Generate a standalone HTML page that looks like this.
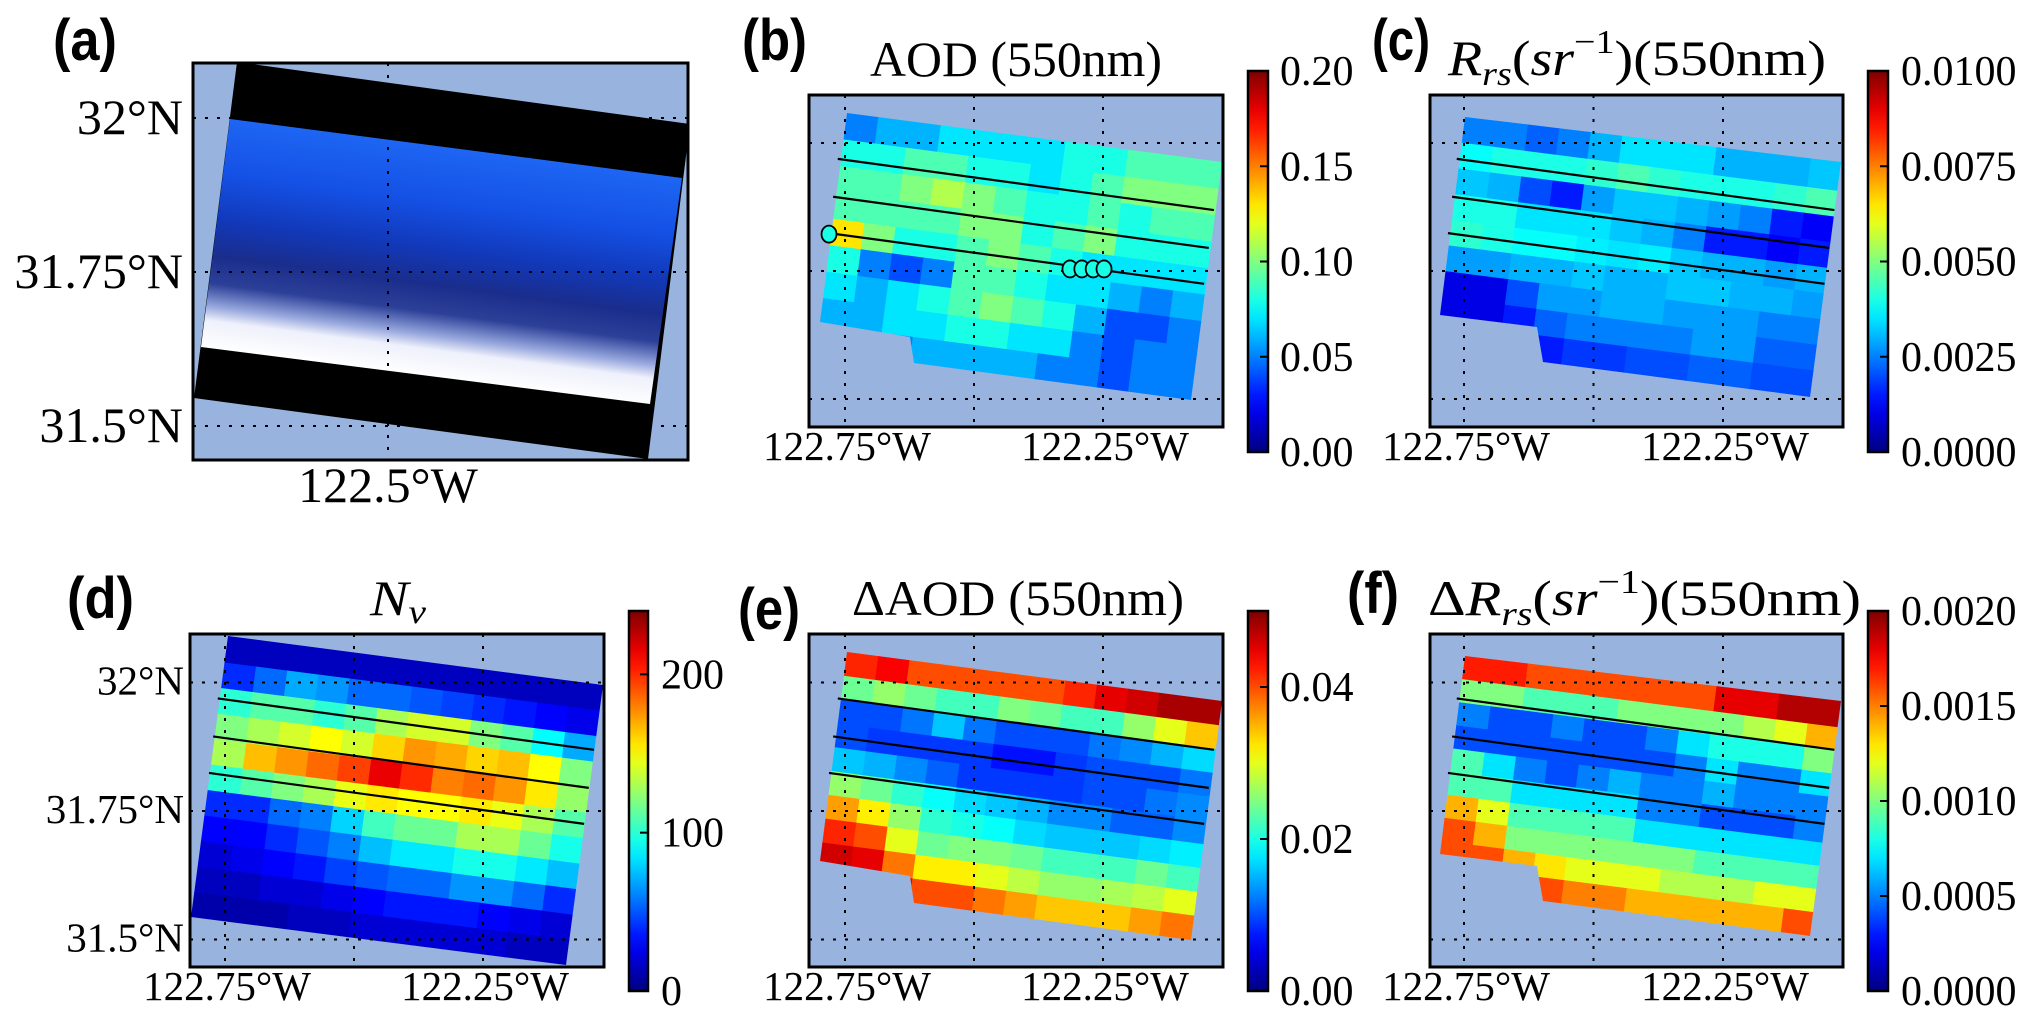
<!DOCTYPE html>
<html><head><meta charset="utf-8"><style>
html,body{margin:0;padding:0;background:#fff;}
svg{display:block;}
text{font-family:"Liberation Serif",serif;fill:#000;}
.pl{font-family:"Liberation Sans",sans-serif;font-weight:bold;}
</style></head><body>
<svg id="fig" xmlns="http://www.w3.org/2000/svg" width="2031" height="1025" viewBox="0 0 2031 1025">
<defs id="defs"></defs>
<g id="root"></g>
<text class="pl" x="53" y="60" font-size="58" textLength="64" lengthAdjust="spacingAndGlyphs">(a)</text>
<text class="pl" x="742" y="60" font-size="58" textLength="65" lengthAdjust="spacingAndGlyphs">(b)</text>
<text class="pl" x="1372" y="60" font-size="58" textLength="58" lengthAdjust="spacingAndGlyphs">(c)</text>
<text class="pl" x="67" y="618" font-size="58" textLength="67" lengthAdjust="spacingAndGlyphs">(d)</text>
<text class="pl" x="738" y="629" font-size="58" textLength="62" lengthAdjust="spacingAndGlyphs">(e)</text>
<text class="pl" x="1347" y="613" font-size="58" textLength="52" lengthAdjust="spacingAndGlyphs">(f)</text>

<text x="870" y="76" font-size="50" textLength="292" lengthAdjust="spacingAndGlyphs">AOD (550nm)</text>
<text x="1448" y="75" font-size="50" textLength="378" lengthAdjust="spacingAndGlyphs"><tspan font-style="italic">R</tspan><tspan font-style="italic" font-size="34" dy="10">rs</tspan><tspan dy="-10">(</tspan><tspan font-style="italic">sr</tspan><tspan font-size="34" dy="-22">−1</tspan><tspan dy="22">)(550nm)</tspan></text>
<text x="370" y="615" font-size="50" textLength="56" lengthAdjust="spacingAndGlyphs"><tspan font-style="italic">N</tspan><tspan font-style="italic" font-size="34" dy="8">v</tspan></text>
<text x="852" y="615" font-size="50" textLength="332" lengthAdjust="spacingAndGlyphs">ΔAOD (550nm)</text>
<text x="1428" y="615" font-size="50" textLength="433" lengthAdjust="spacingAndGlyphs">Δ<tspan font-style="italic">R</tspan><tspan font-style="italic" font-size="34" dy="10">rs</tspan><tspan dy="-10">(</tspan><tspan font-style="italic">sr</tspan><tspan font-size="34" dy="-22">−1</tspan><tspan dy="22">)(550nm)</tspan></text>
</svg>
<script>
// ---------- data arrays ----------
const aodRows = [
[0.05,0.06,0.06,0.07,0.07,0.07,0.07,0.08,0.08,0.09,0.09,0.09],
[0.08,0.08,0.09,0.09,0.08,0.08,0.07,0.08,0.09,0.10,0.10,0.10],
[0.09,0.09,0.10,0.11,0.10,0.09,0.08,0.08,0.09,0.08,0.09,0.09],
[0.09,0.09,0.09,0.09,0.10,0.10,0.08,0.09,0.10,0.08,0.08,0.08],
[0.13,0.10,0.08,0.08,0.09,0.10,0.09,0.08,0.07,0.07,0.07,0.07],
[0.08,0.05,0.04,0.05,0.09,0.09,0.08,0.07,0.07,0.06,0.05,0.06],
[0.07,0.06,0.07,0.08,0.09,0.10,0.09,0.08,0.06,0.04,0.04,0.05],
[0.06,0.06,0.07,0.07,0.08,0.08,0.07,0.07,0.05,0.04,0.05,0.05],
[0.05,0.05,0.05,0.06,0.06,0.06,0.06,0.05,0.05,0.04,0.05,0.05]];
const rrsRows = [
[.0025,.0025,.0022,.0025,.0030,.0035,.0035,.0035,.0030,.0030,.0030,.0032],
[.0038,.0040,.0040,.0040,.0042,.0045,.0042,.0040,.0040,.0040,.0042,.0045],
[.0032,.0030,.0020,.0015,.0028,.0032,.0032,.0030,.0028,.0025,.0015,.0012],
[.0040,.0040,.0035,.0035,.0035,.0032,.0030,.0025,.0015,.0015,.0012,.0015],
[.0042,.0040,.0038,.0038,.0036,.0035,.0036,.0032,.0030,.0030,.0028,.0030],
[.0028,.0028,.0030,.0030,.0032,.0030,.0030,.0032,.0032,.0030,.0030,.0028],
[.0010,.0010,.0020,.0028,.0028,.0030,.0030,.0028,.0028,.0028,.0025,.0025],
[.0010,.0010,.0015,.0022,.0025,.0025,.0025,.0025,.0028,.0028,.0022,.0022],
[.0010,.0010,.0012,.0015,.0018,.0018,.0020,.0020,.0022,.0022,.0020,.0020]];
const nvRows = [
[15,15,15,15,15,15,15,15,15,15,15,15],
[40,55,70,65,55,55,50,45,40,35,30,25],
[100,110,110,100,110,130,140,140,120,110,90,70],
[120,130,140,150,140,160,175,170,160,165,150,120],
[130,165,175,185,195,215,200,180,185,175,155,125],
[100,110,120,130,145,155,150,150,155,145,130,110],
[40,40,55,60,80,105,115,115,130,130,115,95],
[30,30,40,50,60,75,85,85,95,95,85,75],
[20,25,30,35,45,50,55,55,65,65,55,40],
[15,15,20,20,25,30,35,35,35,30,25,20],
[10,10,10,15,15,20,20,20,20,20,15,15]];
const dAodRows = [
[.042,.044,.040,.040,.040,.040,.040,.042,.045,.046,.048,.048],
[.024,.026,.024,.022,.022,.025,.024,.022,.022,.026,.030,.034],
[.010,.010,.012,.016,.012,.010,.010,.010,.012,.013,.015,.017],
[.010,.009,.009,.009,.009,.007,.007,.009,.010,.010,.010,.012],
[.016,.015,.013,.011,.009,.009,.009,.009,.010,.010,.012,.013],
[.026,.024,.021,.019,.017,.016,.015,.013,.013,.011,.011,.013],
[.036,.032,.026,.021,.020,.019,.017,.016,.016,.016,.017,.018],
[.042,.040,.030,.024,.025,.025,.024,.022,.022,.022,.024,.022],
[.046,.045,.038,.032,.032,.030,.028,.026,.026,.027,.028,.030],
[.048,.048,.044,.040,.040,.038,.036,.034,.034,.034,.036,.038]];
const dRrsRows = [
[.0017,.0017,.0016,.0016,.0016,.0016,.0016,.0016,.0018,.0018,.0019,.0019],
[.0010,.0010,.0009,.0009,.0009,.0010,.0010,.0010,.0010,.0011,.0012,.0014],
[.0005,.0004,.0004,.0005,.0004,.0004,.0005,.0007,.0008,.0008,.0008,.0010],
[.0004,.0004,.0004,.0004,.0004,.0004,.0004,.0005,.0007,.0005,.0005,.0007],
[.0009,.0007,.0005,.0004,.0005,.0006,.0005,.0005,.0006,.0005,.0005,.0005],
[.0009,.0009,.0007,.0007,.0007,.0007,.0005,.0005,.0004,.0004,.0004,.0005],
[.0014,.0012,.0009,.0009,.0009,.0009,.0007,.0007,.0007,.0007,.0007,.0007],
[.0016,.0014,.0010,.0010,.0010,.0010,.0010,.0010,.0009,.0009,.0009,.0009],
[.0016,.0016,.0014,.0013,.0012,.0012,.0012,.0011,.0011,.0011,.0012,.0012],
[.0018,.0018,.0016,.0016,.0015,.0015,.0014,.0014,.0014,.0014,.0014,.0016]];
const aodTicks = ["0.00","0.05","0.10","0.15","0.20"];
const rrsTicks = ["0.0000","0.0025","0.0050","0.0075","0.0100"];
const nvTicks = ["0","100","200"];
const dAodTicks = ["0.00","0.02","0.04"];
const dRrsTicks = ["0.0000","0.0005","0.0010","0.0015","0.0020"];
const lonTicks = [-122.75,-122.5,-122.25];
const lonTickLabels = ["122.75°W","","122.25°W"];
const latTicks = [32,31.75,31.5];
const latTickLabels = ["32°N","31.75°N","31.5°N"];
const transectLon0 = [-122.764,-122.773,-122.781];
const transectLat0 = [31.969,31.895,31.824];
const transectLon1 = [-122.035,-122.045,-122.054];
const transectLat1 = [31.869,31.795,31.725];
const stationLon = [-122.781,-122.314,-122.291,-122.269,-122.248];
const stationLat = [31.822,31.754,31.754,31.754,31.754];

// ---------- helpers ----------
const NS="http://www.w3.org/2000/svg";
const root=document.getElementById('root');
const defs=document.getElementById('defs');
function mk(tag,attrs,parent){const e=document.createElementNS(NS,tag);for(const k in attrs)e.setAttribute(k,attrs[k]);(parent||root).appendChild(e);return e;}
function cl(v){return Math.max(0,Math.min(1,v));}
function jet(t){t=cl(t);const r=cl(Math.min(4*t-1.5,-4*t+4.5)),g=cl(Math.min(4*t-0.5,-4*t+3.5)),b=cl(Math.min(4*t+0.5,-4*t+2.5));
 return 'rgb('+Math.round(r*255)+','+Math.round(g*255)+','+Math.round(b*255)+')';}
const BG='#98b4de';

const lg=mk('linearGradient',{id:'jetg',x1:0,y1:1,x2:0,y2:0},defs);
for(let i=0;i<=20;i++){mk('stop',{offset:(i/20),'stop-color':jet(i/20)},lg);}

const panels=[
 {id:'b',ax:[809,95,1223,427],cb:[1248,71,1268,452],X:l=>845+(l+122.75)*516,Y:a=>271-(a-31.75)*512,
  sw:{ox:847,oy:113,ang:7.5,W:378,H:240},clip:[[847,113],[1222,162],[1191,400],[914,363],[910,337],[820,322]],
  rows:aodRows,vmax:0.2,ticks:aodTicks,cbx:1280,ylab:false,fs:41,stations:true},
 {id:'c',ax:[1430,95,1843,427],cb:[1868,71,1888,452],X:l=>1464+(l+122.75)*518,Y:a=>271-(a-31.75)*512,
  sw:{ox:1465,oy:117,ang:7.3,W:380,H:233},clip:[[1465,117],[1841,162],[1810,397],[1543,362],[1537,327],[1440,315]],
  rows:rrsRows,vmax:0.01,ticks:rrsTicks,cbx:1901,ylab:false,fs:41},
 {id:'d',ax:[190,634,604,967],cb:[629,611,648,991],X:l=>225+(l+122.75)*516,Y:a=>811-(a-31.75)*514,
  sw:{ox:228,oy:637,ang:7.3,W:378,H:283},clip:[[228,636],[603,685],[566,965],[191,917]],
  rows:nvRows,vmax:240,ticks:nvTicks,cbx:661,ylab:true,fs:41},
 {id:'e',ax:[809,634,1223,967],cb:[1248,611,1268,991],X:l=>845+(l+122.75)*516,Y:a=>811-(a-31.75)*514,
  sw:{ox:847,oy:652,ang:7.5,W:378,H:240},clip:[[847,652],[1222,701],[1191,940],[914,903],[910,876],[820,861]],
  rows:dAodRows,vmax:0.05,ticks:dAodTicks,cbx:1280,ylab:false,fs:41},
 {id:'f',ax:[1430,634,1843,967],cb:[1868,611,1888,991],X:l=>1464+(l+122.75)*518,Y:a=>811-(a-31.75)*514,
  sw:{ox:1465,oy:656,ang:7.3,W:380,H:233},clip:[[1465,656],[1841,701],[1810,936],[1543,901],[1537,866],[1440,854]],
  rows:dRrsRows,vmax:0.002,ticks:dRrsTicks,cbx:1901,ylab:false,fs:41}
];

function gridAndFrame(p,g,xs,ys){
 const [x0,y0,x1,y1]=p.ax;
 xs.forEach(x=>{const l=mk('line',{x1:x,y1:y0,x2:x,y2:y1,stroke:'#000','stroke-width':2,'stroke-dasharray':'3 9'},g);
  
  });
 ys.forEach(y=>{const l=mk('line',{x1:x0,y1:y,x2:x1,y2:y,stroke:'#000','stroke-width':2,'stroke-dasharray':'3 9'},g);
  
  });
}

// ---------- panel (a) ----------
(function(){
 const ax=[193,63,688,460];
 const X=l=>388+(l+122.5)*616, Y=a=>272-(a-31.75)*616;
 const g=mk('g',{});
 
 
 const bg=mk('rect',{x:ax[0],y:ax[1],width:ax[2]-ax[0],height:ax[3]-ax[1],fill:BG},g);
 
 
 const cp=mk('clipPath',{id:'clip-a'},defs);
 mk('rect',{x:ax[0],y:ax[1],width:ax[2]-ax[0],height:ax[3]-ax[1]},cp);
 const ig=mk('g',{'clip-path':'url(#clip-a)'},g);
 const scene=mk('polygon',{points:'237,62 690,124 648,459 194,398',fill:'#000'},ig);
 
 
 const gr=mk('linearGradient',{id:'rgbg',gradientUnits:'userSpaceOnUse',x1:450,y1:147,x2:420,y2:376},defs);
 [[0,'#1e66f4'],[0.25,'#1450e4'],[0.45,'#1238b8'],[0.6,'#1a2d8c'],[0.72,'#2c4098'],[0.82,'#98a8de'],[0.88,'#eef0fb'],[1,'#ffffff']].forEach(s=>mk('stop',{offset:s[0],'stop-color':s[1]},gr));
 const img=mk('polygon',{points:'230,119 682,178 650,404 201,347',fill:'url(#rgbg)'},ig);
 
 
 gridAndFrame({ax:ax},g,[X(-122.5)],latTicks.map(Y));
 const fr=mk('rect',{x:ax[0],y:ax[1],width:ax[2]-ax[0],height:ax[3]-ax[1],fill:'none',stroke:'#000','stroke-width':3},g);
 
 
 latTicks.forEach((a,i)=>{const t=mk('text',{x:183,y:Y(a)+16,'font-size':50,'text-anchor':'end'},g);t.textContent=latTickLabels[i];
  
  });
 const t=mk('text',{x:X(-122.5),y:502,'font-size':50,'text-anchor':'middle'},g);t.textContent='122.5°W';
 
 
})();

// ---------- panels b-f ----------
panels.forEach(p=>{
 const [x0,y0,x1,y1]=p.ax;
 const g=mk('g',{});
 
 
 const bg=mk('rect',{x:x0,y:y0,width:x1-x0,height:y1-y0,fill:BG},g);
 
 
 const cp=mk('clipPath',{id:'clip-'+p.id},defs);
 mk('polygon',{points:p.clip.map(q=>q.join(',')).join(' ')},cp);
 const cg=mk('g',{'clip-path':'url(#clip-'+p.id+')'},g);
 const hg=mk('g',{transform:'translate('+p.sw.ox+','+p.sw.oy+') rotate('+p.sw.ang+')'},cg);
 
 
 const nr=p.rows.length,nc=p.rows[0].length,cw=p.sw.W/nc,ch=p.sw.H/nr;
 p.rows.forEach((row,i)=>row.forEach((v,j)=>{
  const r=mk('rect',{x:(j*cw-(j==0?30:0)).toFixed(2),y:(i*ch-(i==0?10:0)).toFixed(2),width:(cw+0.8+(j==0?30:0)+(j==nc-1?20:0)).toFixed(2),height:(ch+0.8+(i==0?10:0)+(i==nr-1?20:0)).toFixed(2),fill:jet(v/p.vmax)},hg);
  
  
 }));
 gridAndFrame(p,g,lonTicks.map(p.X),latTicks.map(p.Y));
 transectLon0.forEach((l,i)=>{
  const ln=mk('line',{x1:p.X(l),y1:p.Y(transectLat0[i]),x2:p.X(transectLon1[i]),y2:p.Y(transectLat1[i]),stroke:'#000','stroke-width':2.2},g);
  
  
 });
 if(p.stations){stationLon.forEach((l,i)=>{
  const c=mk('ellipse',{cx:p.X(l),cy:p.Y(stationLat[i]),rx:7.5,ry:8.5,fill:jet(0.08/0.2),stroke:'#000','stroke-width':1.8},g);
  
  
 });}
 const fr=mk('rect',{x:x0,y:y0,width:x1-x0,height:y1-y0,fill:'none',stroke:'#000','stroke-width':3},g);
 
 
 lonTicks.forEach((l,i)=>{if(!lonTickLabels[i])return;
  const t=mk('text',{x:p.X(l)+2,y:y1+33,'font-size':p.fs,'text-anchor':'middle'},g);t.textContent=lonTickLabels[i];
  
  });
 if(p.ylab){latTicks.forEach((a,i)=>{const t=mk('text',{x:184,y:p.Y(a)+12,'font-size':p.fs,'text-anchor':'end'},g);t.textContent=latTickLabels[i];
  
  });}
 const [c0,cy0,c1,cy1]=p.cb;
 const cb=mk('rect',{x:c0,y:cy0,width:c1-c0,height:cy1-cy0,fill:'url(#jetg)',stroke:'#000','stroke-width':2.5},g);
 
 
 p.ticks.forEach(s=>{const v=parseFloat(s);const y=cy1-(v/p.vmax)*(cy1-cy0);
  const tk=mk('line',{x1:c1-8,y1:y,x2:c1,y2:y,stroke:'#000','stroke-width':2},g);
  
  
  const t=mk('text',{x:p.cbx,y:y+14,'font-size':42},g);t.textContent=s;
  
  });
});
</script>
</body></html>
